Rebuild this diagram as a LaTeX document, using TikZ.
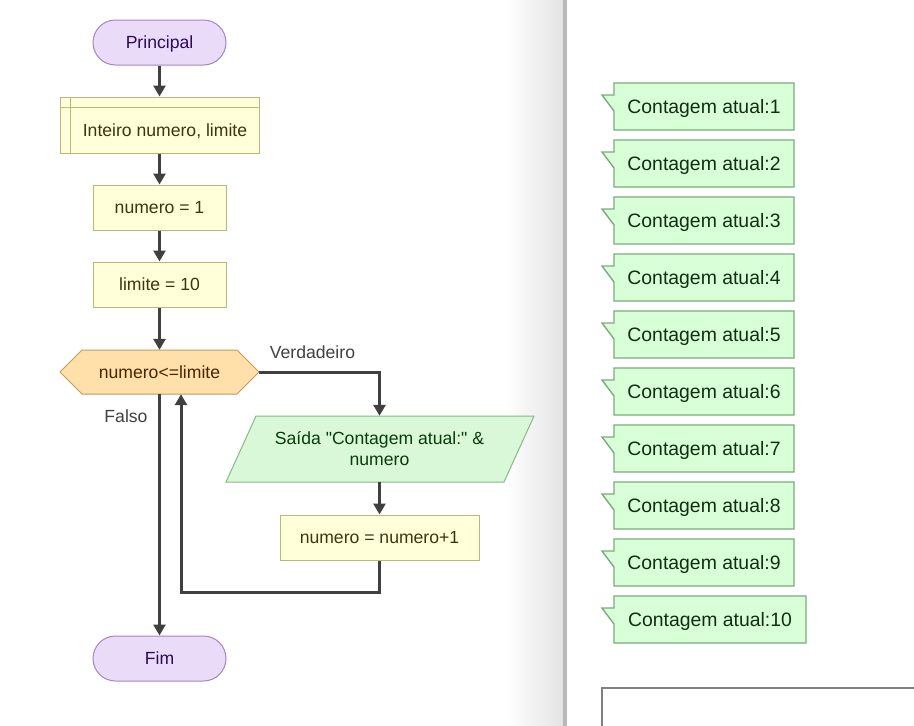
\documentclass[tikz,border=0pt]{standalone}
\usepackage{fontspec}
\setmainfont{Liberation Sans}[Ligatures=TeXOff]
\usetikzlibrary{arrows.meta,calc}
\definecolor{termfill}{HTML}{EADCF9}
\definecolor{termline}{HTML}{A385C4}
\definecolor{termtext}{HTML}{2C0A55}
\definecolor{procfill}{HTML}{FFFFDA}
\definecolor{procline}{HTML}{BDB67A}
\definecolor{proctext}{HTML}{3A3610}
\definecolor{decfill}{HTML}{FFDFAA}
\definecolor{decline}{HTML}{C49A5C}
\definecolor{dectext}{HTML}{4A2400}
\definecolor{outfill}{HTML}{D8F8D8}
\definecolor{outline}{HTML}{88B888}
\definecolor{outtext}{HTML}{0C3A0C}
\definecolor{bubfill}{HTML}{D8FFD8}
\definecolor{bubline}{HTML}{7CAA7C}
\definecolor{bubtext}{HTML}{102E10}
\definecolor{linegray}{HTML}{404040}
\definecolor{divline}{HTML}{B8B8B8}
\definecolor{divshade}{HTML}{E4E4E4}
\definecolor{boxgray}{HTML}{808080}
\newcommand\bubblebox[4]{%
  \filldraw[fill=bubfill,draw=bubline,line width=1.4pt,line join=miter]
    (614,#2) -- (#3,#2) -- (#3,#2+47) -- (614,#2+47) -- (614,#2+28)
    -- (602,#2+12) -- (614,#2+12) -- cycle;
  \node[bubtxt] (#1) at ({(614+#3)/2},#2+23.5) {#4};}
\begin{document}
\begin{tikzpicture}[x=1pt,y=-1pt,
  base/.style={font=\fontsize{17.6}{21}\selectfont, inner sep=0pt, align=center,
     text height=12.6pt, text depth=0pt},
  term/.style={base, draw=termline, fill=termfill, text=termtext, line width=1pt,
     rounded corners=22.5pt, minimum width=133pt, minimum height=45pt},
  proc/.style={base, draw=procline, fill=procfill, text=proctext, line width=1pt,
     minimum width=133pt, minimum height=45pt},
  lbl/.style={base, text=linegray},
  bubtxt/.style={font=\fontsize{19.4}{23}\selectfont, inner sep=0pt, text=bubtext,
     text height=13.9pt, text depth=0pt},
  arr/.style={draw=linegray, line width=3pt, line join=miter,
     -{Triangle[width=12pt,length=11pt]}}]
\useasboundingbox (0,0) rectangle (914,726);
% divider
\shade[left color=white, right color=divshade] (505,0) rectangle (563,726);
\fill[divline] (563,0) rectangle (566.5,726);
% flowchart nodes
\node[term] (start) at (159.5,42.5) {Principal};
\node[proc, minimum width=199pt, minimum height=56pt] (decl) at (159.5,125) {};
\draw[procline, line width=1pt] ([xshift=11pt]decl.north west) -- ([xshift=11pt]decl.south west);
\draw[procline, line width=1pt] ([yshift=-11pt]decl.north west) -- ([yshift=-11pt]decl.north east);
\node[base, text=proctext] (decltext) at (165,130.5) {Inteiro numero, limite};
\node[proc] (n1) at (159.5,207.5) {numero = 1};
\node[proc] (lim) at (159.5,284.5) {limite = 10};
\filldraw[fill=decfill, draw=decline, line width=1pt]
  (60,372) -- (82,350) -- (237,350) -- (259,372) -- (237,394) -- (82,394) -- cycle;
\node[base, text=dectext, minimum width=199pt, minimum height=44pt] (dec) at (159.5,372) {numero<=limite};
\filldraw[fill=outfill, draw=outline, line width=1pt]
  (256,416) -- (534,416) -- (504,482) -- (226,482) -- cycle;
\node[base, text=outtext, text height=33.6pt, text depth=0pt, minimum width=278pt, minimum height=66pt] (out) at (379.5,449)
  {Saída "Contagem atual:" \&\\numero};
\node[proc, minimum width=199pt] (inc) at (379.5,537.5) {numero = numero+1};
\node[term] (fim) at (159.5,658.5) {Fim};
% labels
\node[lbl] (vlab) at (312.5,352) {Verdadeiro};
\node[lbl] (flab) at (126,416) {Falso};
% connectors
\draw[arr] (start.south) -- (decl.north);
\draw[arr] (decl.south) -- (n1.north);
\draw[arr] (n1.south) -- (lim.north);
\draw[arr] (lim.south) -- (dec.north);
\draw[arr] (dec.east) -| (out.north);
\draw[arr] (out.south) -- (inc.north);
\draw[arr] (inc.south) -- ++(0,32) -| ([xshift=21.5pt]dec.south);
\draw[arr] (dec.south) -- (fim.north);
% console output
\bubblebox{b1}{83}{794}{Contagem atual:1}
\bubblebox{b2}{140}{794}{Contagem atual:2}
\bubblebox{b3}{197}{794}{Contagem atual:3}
\bubblebox{b4}{254}{794}{Contagem atual:4}
\bubblebox{b5}{311}{794}{Contagem atual:5}
\bubblebox{b6}{368}{794}{Contagem atual:6}
\bubblebox{b7}{425}{794}{Contagem atual:7}
\bubblebox{b8}{482}{794}{Contagem atual:8}
\bubblebox{b9}{539}{794}{Contagem atual:9}
\bubblebox{b10}{596}{806}{Contagem atual:10}
\draw[boxgray, line width=1.5pt] (602,727) -- (602,688) -- (915,688);
\end{tikzpicture}
\end{document}
